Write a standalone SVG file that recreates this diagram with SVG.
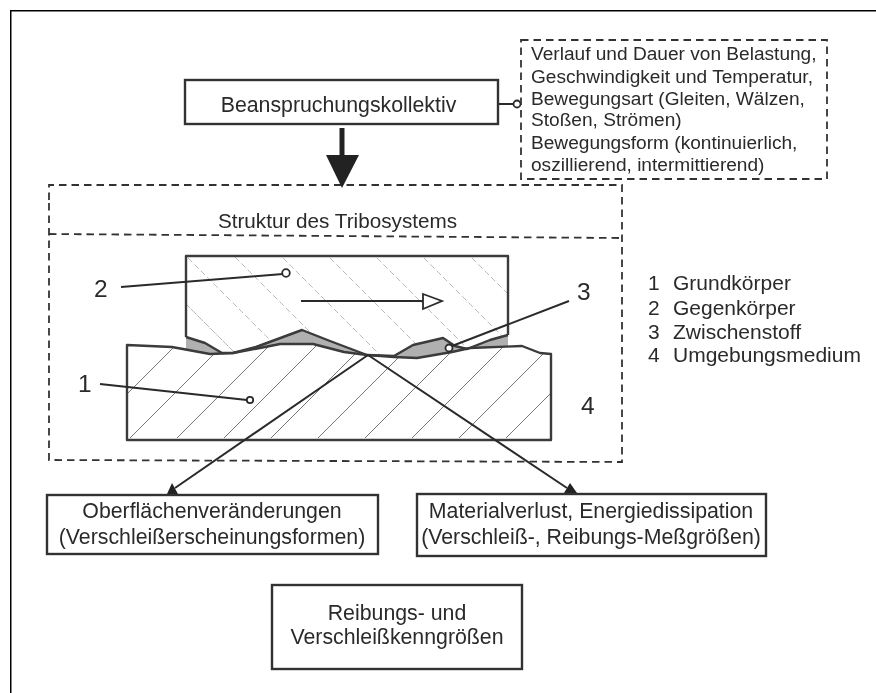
<svg xmlns="http://www.w3.org/2000/svg" width="876" height="693" viewBox="0 0 876 693">
<style>
text{font-family:"Liberation Sans",Arial,sans-serif;fill:#2a2a2a;font-size:21.3px}
.c{text-anchor:middle}
.d{font-size:24.5px}
.n{font-size:19.1px}
.l{font-size:21px}
.box{fill:#fff;stroke:#333;stroke-width:2.4}
.dash{fill:none;stroke:#333;stroke-width:1.8;stroke-dasharray:7.5 5}
.body{fill:none;stroke:#3a3a3a;stroke-width:2.4;stroke-linejoin:round}
.hl{stroke:#777;stroke-width:1;fill:none}
.hu{stroke:#bbb;stroke-width:1;stroke-dasharray:6 3;fill:none}
.ln{stroke:#2a2a2a;stroke-width:2;fill:none}
.dot{fill:#fff;stroke:#2a2a2a;stroke-width:1.8}
</style>
<defs>
<filter id="scan" x="0" y="0" width="100%" height="100%"><feGaussianBlur stdDeviation="0.35"/></filter>
<clipPath id="cu"><path d="M186 256H508V335L490 340L472 348L455 346L443 338L413 345L394 356H367L330 341L302 330L256 347L233 353L222 353L205 343L186 337Z"/></clipPath>
<clipPath id="cl"><path d="M127 345L172 347L210 354L233 353L260 348L280 344H313L344 352L367 355L394 357L417 358L452 352L470 348L522 346L540 353L551 354V440H127Z"/></clipPath>
</defs>
<rect width="876" height="693" fill="#fff"/>
<g filter="url(#scan)">
<path id="frame" d="M10 693V10H876" fill="none" stroke="#000" stroke-width="3"/>
<g id="tribosystem-frame">
<path class="dash" d="M49 200V185H622V462L49 460V196"/>
<path class="dash" d="M49 234L622 238"/>
<text class="c" x="337.500" y="228" style="font-size:20.7px">Struktur des Tribosystems</text>
</g>
<g id="body-2">
<g clip-path="url(#cu)" class="hu">
<path d="M188 258L300 370M235 257L347 369M283 258L395 370M330 258L442 370M377 258L489 370M424 258L536 370M472 258L584 370M140 258L252 370M186 304L260 378"/>
</g>
<path d="M186 337V256H508V335" class="body"/>
</g>
<g id="body-1">
<g clip-path="url(#cl)" class="hl">
<path d="M130 438L230 338M177 438L277 338M224 438L324 338M271 438L371 338M318 438L418 338M365 438L465 338M412 438L512 338M459 438L559 338M506 438L606 338M83 438L183 338"/>
</g>
</g>
<g id="interlayer">
<path d="M186 337L205 343L222 353L233 353L210 354L172 347L186 348Z" fill="#b0b0b0"/>
<path d="M256 347L302 330L330 341L367 355L344 352L313 344H280L260 348Z" fill="#b0b0b0"/>
<path d="M394 356L413 345L443 338L455 346L472 348L452 352L417 358L394 357Z" fill="#b0b0b0"/>
<path d="M467 349L490 340L508 335V346L470 348Z" fill="#b0b0b0"/>
<path class="body" d="M186 337L205 343L222 353L233 353L256 347L302 330L330 341L367 355L394 356L413 345L443 338L455 346L467 349L490 340L508 335"/>
</g>
<path id="body-1-outline" d="M127 345L172 347L210 354L233 353L260 348L280 344H313L344 352L367 355L394 357L417 358L452 352L470 348L522 346L540 353L551 354V440H127Z" class="body"/>
<g id="motion-arrow">
<path class="ln" d="M301 301H423"/>
<path d="M423 294L442 301L423 309Z" fill="#fff" stroke="#2a2a2a" stroke-width="1.8"/>
</g>
<g id="connectors">
<path d="M342 128V156" stroke="#222" stroke-width="5" fill="none"/>
<path d="M326 155H359L342 188Z" fill="#222"/>
<path class="ln" d="M498 104H514"/>
<path class="ln" d="M368 355L175 488M368 355L567 488"/>
<path d="M167 494L172 483L178 494Z" fill="#222"/>
<path d="M564 493L570 483L577 493Z" fill="#222"/>
<path class="ln" d="M121 287L283 274"/>
<path class="ln" d="M100 384L247 400"/>
<path class="ln" d="M569 301L452 346"/>
<circle class="dot" cx="517" cy="104" r="3.500"/>
<circle class="dot" cx="286" cy="273" r="3.800"/>
<circle class="dot" cx="250" cy="400" r="3.200"/>
<circle class="dot" cx="449" cy="348" r="3.500"/>
</g>
<g id="labels">
<text class="d" x="94" y="297">2</text>
<text class="d" x="78" y="392">1</text>
<text class="d" x="577" y="300">3</text>
<text class="d" x="581" y="414">4</text>
</g>
<g id="legend">
<text class="l" x="648" y="290">1</text><text class="l" x="673" y="290">Grundkörper</text>
<text class="l" x="648" y="315">2</text><text class="l" x="673" y="315">Gegenkörper</text>
<text class="l" x="648" y="339">3</text><text class="l" x="673" y="339">Zwischenstoff</text>
<text class="l" x="648" y="362">4</text><text class="l" x="673" y="362">Umgebungsmedium</text>
</g>
<g id="node-load">
<rect class="box" x="185" y="80" width="313" height="44"/>
<text class="c" x="338.500" y="112">Beanspruchungskollektiv</text>
</g>
<g id="node-note">
<rect class="dash" x="521" y="40" width="306" height="139"/>
<text class="n" x="531" y="60">Verlauf und Dauer von Belastung,</text>
<text class="n" x="531" y="83">Geschwindigkeit und Temperatur,</text>
<text class="n" x="531" y="105">Bewegungsart (Gleiten, Wälzen,</text>
<text class="n" x="531" y="126">Stoßen, Strömen)</text>
<text class="n" x="531" y="149">Bewegungsform (kontinuierlich,</text>
<text class="n" x="531" y="171">oszillierend, intermittierend)</text>
</g>
<g id="node-surface">
<rect class="box" x="47" y="495" width="331" height="59"/>
<text class="c" x="212" y="518">Oberflächenveränderungen</text>
<text class="c" x="212" y="544">(Verschleißerscheinungsformen)</text>
</g>
<g id="node-loss">
<rect class="box" x="417" y="494" width="349" height="62"/>
<text class="c" x="591" y="518">Materialverlust, Energiedissipation</text>
<text class="c" x="591" y="544">(Verschleiß-, Reibungs-Meßgrößen)</text>
</g>
<g id="node-values">
<rect class="box" x="272" y="585" width="250" height="84"/>
<text class="c" x="397" y="620">Reibungs- und</text>
<text class="c" x="397" y="644">Verschleißkenngrößen</text>
</g>
</g>
</svg>
